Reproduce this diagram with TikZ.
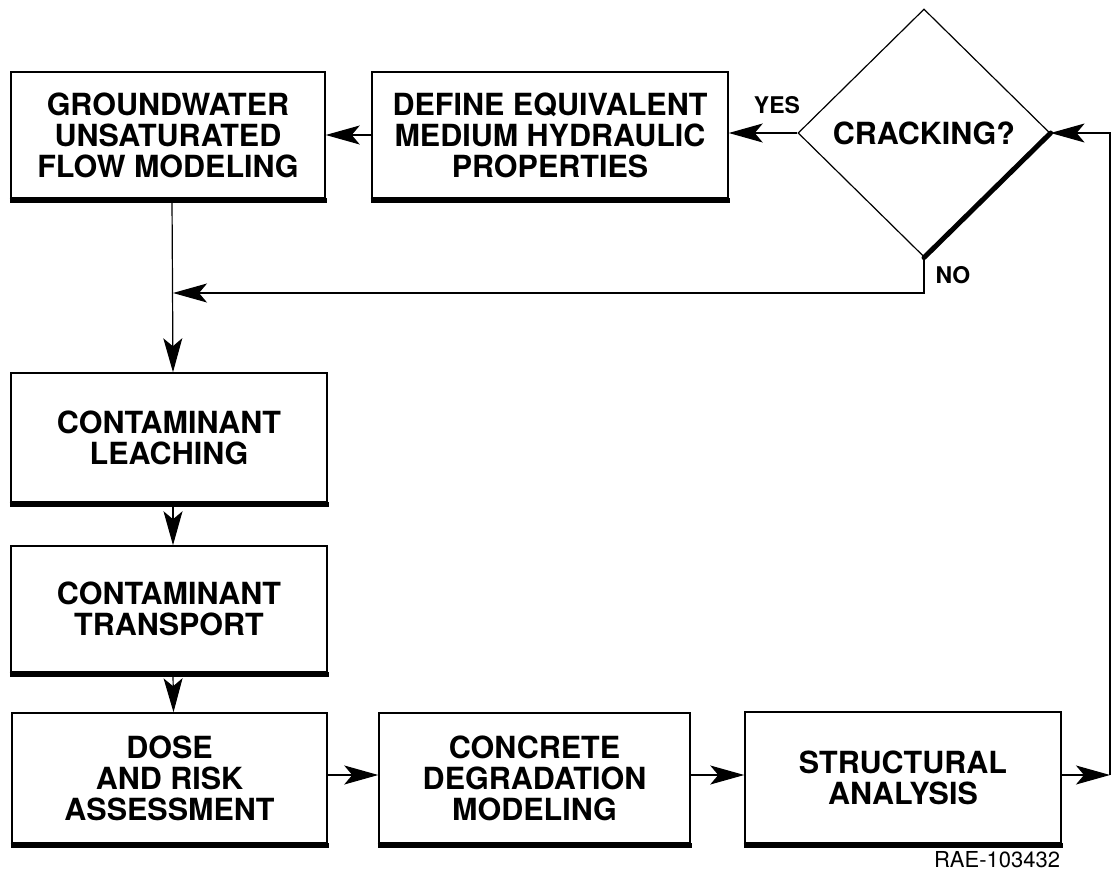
\documentclass[tikz,border=0pt]{standalone}
\usepackage{fontspec}
\setmainfont{TeX Gyre Heros}
\usetikzlibrary{arrows.meta,shapes.geometric}
\tikzset{
  bigtip/.tip={Stealth[length=34pt,width=19pt,inset=8pt,fill=black]},
}
\begin{document}
\begin{tikzpicture}[x=1pt,y=-1pt,
  lbl/.style={font=\bfseries\fontsize{30.5}{31}\selectfont, align=center},
  box/.style={lbl, draw, line width=1.5pt, rectangle, inner sep=0pt},
  arr/.style={line width=1.2pt, -bigtip},
  small/.style={font=\bfseries\fontsize{23}{25}\selectfont}]
\useasboundingbox[fill=white] (0,0) rectangle (1112,872);

\node[box, minimum width=314pt, minimum height=126pt] (gw) at (168,135) {GROUNDWATER\\UNSATURATED\\FLOW MODELING};
\node[box, minimum width=356pt, minimum height=126pt] (def) at (550,135) {DEFINE EQUIVALENT\\MEDIUM HYDRAULIC\\PROPERTIES};
\node[lbl, draw, diamond, line width=1.2pt, minimum width=252pt, minimum height=248pt, inner sep=0pt] (dia) at (924,133) {CRACKING?};
\node[box, minimum width=316pt, minimum height=129pt] (leach) at (169,437.5) {CONTAMINANT\\LEACHING};
\node[box, minimum width=316pt, minimum height=126pt] (trans) at (169,609) {CONTAMINANT\\TRANSPORT};
\node[box, minimum width=315pt, minimum height=130pt] (dose) at (169.5,778) {DOSE\\AND RISK\\ASSESSMENT};
\node[box, minimum width=311pt, minimum height=130pt] (conc) at (534.5,778) {CONCRETE\\DEGRADATION\\MODELING};
\node[box, minimum width=316pt, minimum height=131pt] (struct) at (903,777.5) {STRUCTURAL\\ANALYSIS};

\foreach \n in {gw,def,leach,trans,dose,conc,struct}
  \draw[line width=5pt] ([xshift=-0.75pt,yshift=-1.8pt]\n.south west) -- ([xshift=0.75pt,yshift=-1.8pt]\n.south east);
\draw[line width=5pt, line cap=round] (dia.east) -- (dia.south);

\node[small] (yes) at (777,105) {YES};
\node[small] (no) at (953,275) {NO};
\node[font=\fontsize{22}{24}\selectfont, inner sep=1pt] (rae) at (997,860) {RAE-103432};

\coordinate (nocorner) at (924,293);
\coordinate (nojoin) at (173,293);
\coordinate (fbB) at (1110,775);
\coordinate (fbT) at (1110,133);
\coordinate (hrow) at (0,775);

\draw[arr] (dia.west) -- (dia.west -| def.east);
\draw[arr] (def.west) -- (def.west -| gw.east);
\draw[arr] ([xshift=4pt]gw.south) -- ([xshift=4pt]leach.north);
\draw[arr] (dia.south) -- (nocorner) -- (nojoin);
\draw[arr] ([xshift=4pt]leach.south) -- ([xshift=4pt]trans.north);
\draw[arr] ([xshift=4pt]trans.south) -- ([xshift=4pt]dose.north);
\draw[arr] (dose.east |- hrow) -- (conc.west |- hrow);
\draw[arr] (conc.east |- hrow) -- (struct.west |- hrow);
\draw[arr] (struct.east |- hrow) -- (fbB);
\draw[arr] (fbB) -- (fbT) -- (dia.east);
\end{tikzpicture}
\end{document}
